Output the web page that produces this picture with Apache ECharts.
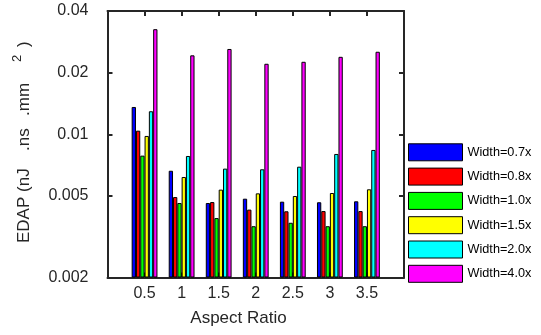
<!DOCTYPE html>
<html>
<head>
<meta charset="utf-8">
<script src="https://cdn.jsdelivr.net/npm/echarts@6/dist/echarts.min.js"></script>
<style>
  html, body { margin: 0; padding: 0; background: #fff; }
  #chart { width: 541px; height: 335px; }
</style>
</head>
<body>
<div id="chart"></div>
<script>
// Energy-delay-area product per aspect ratio, one bar series per width scale
const aspectRatios = [0.5, 1, 1.5, 2, 2.5, 3, 3.5];
const width07 = [0.0136, 0.00664, 0.00462, 0.00485, 0.00469, 0.00466, 0.00471];
const width08 = [0.01042, 0.00494, 0.00467, 0.00429, 0.00421, 0.00422, 0.00422];
const width10 = [0.00787, 0.00462, 0.0039, 0.00356, 0.0037, 0.00356, 0.00356];
const width15 = [0.00982, 0.00619, 0.00537, 0.00515, 0.005, 0.00517, 0.00539];
const width20 = [0.01296, 0.00784, 0.0068, 0.00675, 0.00695, 0.00802, 0.00839];
const width40 = [0.0326, 0.0243, 0.0261, 0.0221, 0.0226, 0.0239, 0.0253];
const seriesNames = ['Width=0.7x', 'Width=0.8x', 'Width=1.0x', 'Width=1.5x', 'Width=2.0x', 'Width=4.0x'];
const seriesColors = ['#0000ff', '#ff0000', '#00ff00', '#ffff00', '#00ffff', '#ff00ff'];
const yTicks = [0.002, 0.005, 0.01, 0.02, 0.04];
const allSeries = [width07, width08, width10, width15, width20, width40];

const FONT = 'Liberation Sans, Arial, sans-serif';
const AXIS_COLOR = '#262626';

const chart = echarts.init(document.getElementById('chart'), null, { renderer: 'canvas' });

const gridBox = { left: 107.5, top: 11, right: 137, bottom: 57.5 };

function tickAxis(extra) {
  return Object.assign({
    axisLine: { show: true, onZero: false, lineStyle: { color: AXIS_COLOR, width: 2 } },
    axisTick: { show: true, inside: true, length: 5, lineStyle: { color: AXIS_COLOR, width: 2 } },
    splitLine: { show: false }
  }, extra);
}

const option = {
  animation: false,
  backgroundColor: '#fff',
  grid: Object.assign({ containLabel: false, outerBoundsMode: 'none' }, gridBox),
  xAxis: [
    tickAxis({
      type: 'value', position: 'bottom', min: 0, max: 4, interval: 0.5,
      axisLabel: {
        show: true, margin: 8, fontSize: 16, fontFamily: FONT, color: AXIS_COLOR,
        formatter: v => (v === 0 || v === 4) ? '' : String(v)
      }
    }),
    tickAxis({
      type: 'value', position: 'top', min: 0, max: 4, interval: 0.5,
      axisLabel: { show: false }
    })
  ],
  yAxis: [
    tickAxis({
      type: 'log', logBase: 10, position: 'left', min: 0.002, max: 0.04, startValue: 0.002,
      axisTick: { show: true, inside: true, length: 5, customValues: yTicks, lineStyle: { color: AXIS_COLOR, width: 2 } },
      axisLabel: {
        show: true, customValues: yTicks, margin: 19, fontSize: 16, fontFamily: FONT, color: AXIS_COLOR,
        padding: [0, 0, 6, 0],
        formatter: v => String(+(+v).toPrecision(3))
      }
    }),
    tickAxis({
      type: 'log', logBase: 10, position: 'right', min: 0.002, max: 0.04,
      axisTick: { show: true, inside: true, length: 5, customValues: yTicks, lineStyle: { color: AXIS_COLOR, width: 2 } },
      axisLabel: { show: false, customValues: yTicks }
    })
  ],
  legend: {
    orient: 'vertical',
    left: 408, top: 143.3,
    padding: 0,
    itemWidth: 54, itemHeight: 17, itemGap: 6.3,
    icon: 'rect',
    itemStyle: { borderColor: '#000', borderWidth: 1 },
    textStyle: { fontSize: 12.7, fontFamily: FONT, color: '#000' },
    data: seriesNames
  },
  series: allSeries.map((vals, i) => ({
    name: seriesNames[i],
    type: 'bar',
    xAxisIndex: 0, yAxisIndex: 0,
    barWidth: 4.3,
    barGap: '0%',
    itemStyle: { color: seriesColors[i], borderColor: '#000', borderWidth: 1 },
    data: aspectRatios.map((x, j) => [x, vals[j]])
  })),
  graphic: [
    {
      type: 'text', x: 238.5, y: 318.5,
      style: {
        text: 'Aspect Ratio', x: 0, y: 0, align: 'center', verticalAlign: 'middle',
        fontSize: 17, fontFamily: FONT, fill: AXIS_COLOR
      }
    },
    {
      // rotated y-axis title, reading bottom to top
      type: 'group', x: 33, y: 277, rotation: Math.PI / 2,
      children: [
        { type: 'text', x: 34, y: 0, style: { text: 'EDAP (nJ', align: 'left', verticalAlign: 'bottom', fontSize: 17, fontFamily: FONT, fill: AXIS_COLOR } },
        { type: 'text', x: 126, y: 0, style: { text: '.ns', align: 'left', verticalAlign: 'bottom', fontSize: 17, fontFamily: FONT, fill: AXIS_COLOR } },
        { type: 'text', x: 161, y: 0, style: { text: '.mm', align: 'left', verticalAlign: 'bottom', fontSize: 17, fontFamily: FONT, fill: AXIS_COLOR } },
        { type: 'text', x: 215, y: -9, style: { text: '2', align: 'left', verticalAlign: 'bottom', fontSize: 13, fontFamily: FONT, fill: AXIS_COLOR } },
        { type: 'text', x: 230, y: 0, style: { text: ')', align: 'left', verticalAlign: 'bottom', fontSize: 17, fontFamily: FONT, fill: AXIS_COLOR } }
      ]
    }
  ]
};

chart.setOption(option);
</script>
</body>
</html>
